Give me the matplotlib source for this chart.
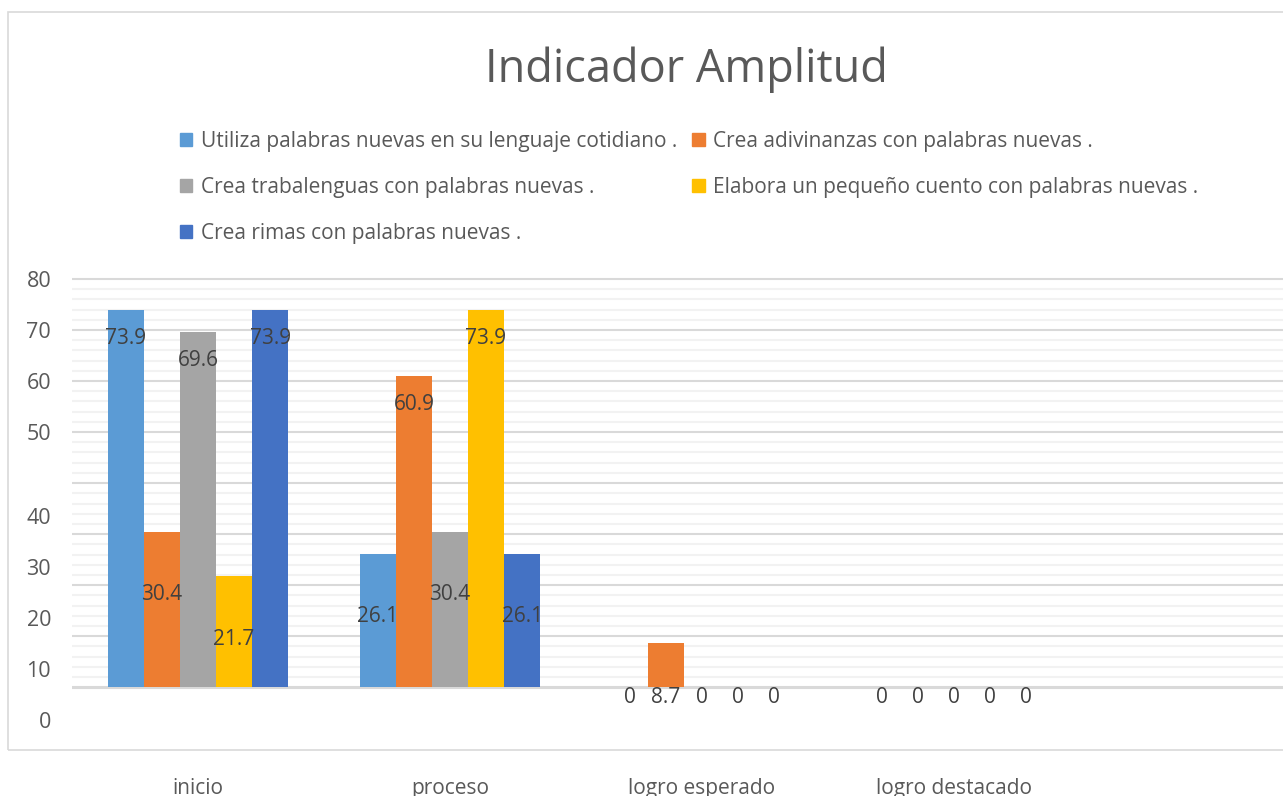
import matplotlib.pyplot as plt
from matplotlib.patches import Rectangle, Patch
import numpy as np

plt.rcParams['font.family'] = ['Open Sans', 'DejaVu Sans']

# data
categorias = ["inicio", "proceso", "logro esperado", "logro destacado"]
series = ["Utiliza palabras nuevas en su lenguaje cotidiano .",
          "Crea adivinanzas con palabras nuevas .",
          "Crea trabalenguas con palabras nuevas .",
          "Elabora un pequeño cuento con palabras nuevas .",
          "Crea rimas con palabras nuevas ."]
utiliza = [73.9, 26.1, 0, 0]
adivinanzas = [30.4, 60.9, 8.7, 0]
trabalenguas = [69.6, 30.4, 0, 0]
cuento = [21.7, 73.9, 0, 0]
rimas = [73.9, 26.1, 0, 0]
valores = [utiliza, adivinanzas, trabalenguas, cuento, rimas]
colores = ["#5B9BD5", "#ED7D31", "#A5A5A5", "#FFC000", "#4472C4"]
y_ticks = [80, 70, 60, 50, 40, 30, 20, 10, 0]

fig = plt.figure(figsize=(12.83, 7.96), dpi=100)
ax = fig.add_axes([72/1283, 0.0854, 1260/1283, 0.566])

x = np.arange(len(categorias))
w = 0.143
for i, vals in enumerate(valores):
    pos = x + (i - 2) * w
    ax.bar(pos, vals, w, color=colores[i], label=series[i], zorder=3)
    for p, v in zip(pos, vals):
        # labels sit lower on the small values (as in the original)
        ly = v - 5.5 if v >= 50 else max(v - 12.3, -2)
        ax.text(p, ly, "{:g}".format(v), ha="center", va="center",
                fontsize=15, color="#404040", zorder=4)

# gridlines
for g in np.arange(2, 81, 2):
    if g % 10 == 0:
        ax.axhline(g, color="#D9D9D9", lw=1.5, zorder=1)
    else:
        ax.axhline(g, color="#F2F2F2", lw=1.5, zorder=1)
ax.axhline(0, color="#D9D9D9", lw=2.2, zorder=2)

ax.set_xlim(-0.5, 4.5)
ax.set_ylim(-8, 80.3)
# y labels under 50 are shifted down in the original picture
ax.set_yticks([t if t >= 50 else t - 6.5 for t in y_ticks])
ax.set_yticklabels([str(t) for t in y_ticks])
ax.set_xticks(x)
ax.set_xticklabels(categorias)
ax.tick_params(axis="y", length=0, pad=15, labelsize=15.5, labelcolor="#595959")
ax.tick_params(axis="x", length=0, pad=36, labelsize=15, labelcolor="#595959")
for s in ax.spines.values():
    s.set_visible(False)

fig.text(0.5347, 0.912, "Indicador Amplitud", ha="center", va="center",
         fontsize=32.5, color="#595959")

handles = [Patch(color=c) for c in colores]
order = [0, 2, 4, 1, 3]
fig.legend([handles[i] for i in order], [series[i] for i in order], ncol=2,
           loc="upper left", bbox_to_anchor=(161/1283, 1 - 112/796),
           frameon=False, fontsize=15, labelcolor="#595959",
           handlelength=0.6, handleheight=0.6, handletextpad=0.4,
           labelspacing=1.2, columnspacing=0.75)

fig.add_artist(Rectangle((8/1283, 46/796), 1.0, 738/796, fill=False,
                         edgecolor="#D9D9D9", lw=1.2, transform=fig.transFigure))

plt.savefig("out.png")
